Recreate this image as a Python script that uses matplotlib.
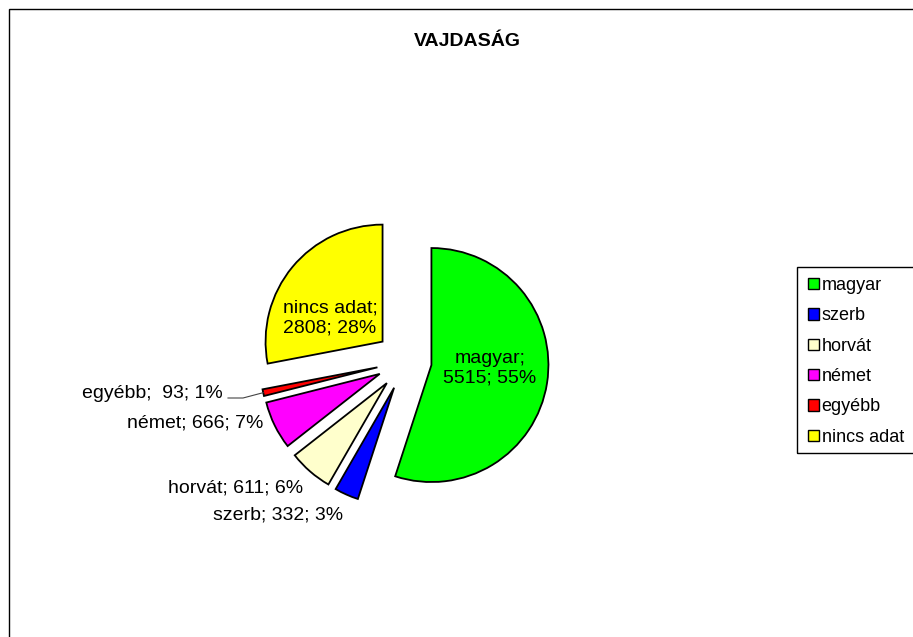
import numpy as np
import matplotlib.pyplot as plt
from matplotlib.patches import Rectangle, Patch

plt.rcParams['font.family'] = ['Liberation Sans', 'DejaVu Sans']

categories = ['magyar', 'szerb', 'horvát', 'német', 'egyébb', 'nincs adat']
values = [5515, 332, 611, 666, 93, 2808]
percents = ['55%', '3%', '6%', '7%', '1%', '28%']
colors = ['#00FF00', '#0000FF', '#FFFFCC', '#FF00FF', '#FF0000', '#FFFF00']
explode = [0.22, 0.25, 0.25, 0.25, 0.25, 0.26]

W, H = 913, 637
fig = plt.figure(figsize=(W / 100, H / 100), dpi=100)

# axes placed so that the pie centre lands at (406, 361) px, radius 117 px
R = 117
cx, cy = 406, 361
half = 2 * R
ax = fig.add_axes([(cx - half) / W, (H - cy - half) / H, 2 * half / W, 2 * half / H])

wedges, _ = ax.pie(values, colors=colors, explode=explode, startangle=90,
                   counterclock=False, radius=1,
                   wedgeprops=dict(edgecolor='black', linewidth=1.3))
ax.set_xlim(-2, 2)
ax.set_ylim(-2, 2)
ax.set_aspect('equal')
ax.axis('off')

def px(x, y):
    return (x - cx) / R, (cy - y) / R

fs = 14
# inside labels
ax.text(*px(490, 368.5), 'magyar;\n5515; 55%', ha='center', va='center', fontsize=fs)
ax.text(*px(330, 318), 'nincs adat;\n2808; 28%', ha='center', va='center', fontsize=fs)

# outside labels (right aligned)
outside = {1: (343, 515), 2: (303, 488), 3: (263, 423), 4: (223, 393)}
for i, (x, y) in outside.items():
    sep = ';  ' if categories[i] == 'egyébb' else '; '
    ax.text(*px(x, y), f'{categories[i]}{sep}{values[i]}; {percents[i]}',
            ha='right', va='center', fontsize=fs)

# leader line for egyébb
w = wedges[4]
mid = np.deg2rad((w.theta1 + w.theta2) / 2)
ex, ey = w.center[0] + np.cos(mid), w.center[1] + np.sin(mid)
p0 = px(228, 398)
p1 = px(243, 398)
ax.plot([p0[0], p1[0], ex], [p0[1], p1[1], ey], color='#444444', linewidth=0.8)

fig.text(467 / W, 1 - 42 / H, 'VAJDASÁG', ha='center', va='center',
         fontsize=14, fontweight='bold')

# outer chart frame
fig.patches.append(Rectangle((8.5 / W, -0.1), 1.2, 1.1 - 9 / H, transform=fig.transFigure,
                             fill=False, edgecolor='black', linewidth=1.0))

# legend box (cut off at the right, as in the original)
fig.patches.append(Rectangle((796.5 / W, 1 - 452.5 / H), 0.2, (452.5 - 267) / H,
                             transform=fig.transFigure, fill=False,
                             edgecolor='black', linewidth=1.0))
handles = [Patch(facecolor=c, edgecolor='black', linewidth=1.0) for c in colors]
leg = fig.legend(handles, categories, loc='upper left',
                 bbox_to_anchor=(808 / W, 1 - 277 / H), frameon=False,
                 fontsize=13, handlelength=0.6, handleheight=0.6,
                 handletextpad=0.15, labelspacing=0.74, borderpad=0,
                 borderaxespad=0)

fig.savefig('out.png', dpi=100)
